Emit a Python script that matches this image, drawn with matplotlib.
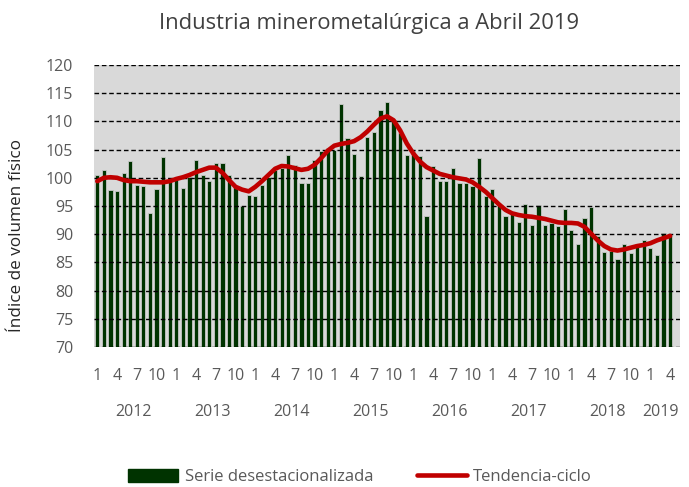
import matplotlib
matplotlib.use("Agg")
import matplotlib.pyplot as plt
from matplotlib.patches import Patch
from matplotlib.lines import Line2D
import numpy as np

plt.rcParams['font.family'] = ['Open Sans', 'DejaVu Sans']

title = "Industria minerometalúrgica a Abril 2019"
ylabel = "Índice de volumen físico"
years = ["2012", "2013", "2014", "2015", "2016", "2017", "2018", "2019"]
months_per_year = [12, 12, 12, 12, 12, 12, 12, 4]
month_labels_shown = [1, 4, 7, 10]

serie = [
    100.5, 101.4, 97.9, 97.6, 100.9, 102.9, 98.8, 98.5, 93.8, 98.0, 103.6, 99.5,
    99.7, 98.2, 100.2, 103.2, 100.5, 99.4, 102.6, 102.7, 100.5, 98.5, 95.0, 97.0,
    96.8, 98.8, 100.2, 101.4, 101.7, 104.0, 102.3, 99.1, 99.1, 103.2, 104.7, 105.3,
    105.0, 113.0, 107.1, 104.3, 100.4, 107.3, 108.2, 112.0, 113.4, 110.3, 107.9, 104.1,
    104.7, 103.8, 93.3, 102.1, 99.5, 99.5, 101.7, 99.1, 99.1, 98.5, 103.5, 96.7,
    98.1, 95.2, 93.3, 93.5, 92.2, 95.4, 91.7, 95.1, 91.7, 92.0, 91.4, 94.5,
    90.8, 88.3, 92.9, 94.9, 89.6, 86.9, 87.0, 85.6, 88.3, 86.7, 88.3, 88.9,
    87.5, 86.4, 90.2, 89.6,
]

tendencia = [
    99.4, 100.0, 100.1, 100.0, 99.6, 99.4, 99.4, 99.3, 99.2, 99.2, 99.2, 99.4,
    99.8, 100.1, 100.5, 101.0, 101.4, 101.8, 101.8, 100.9, 99.6, 98.4, 97.9, 97.6,
    98.4, 99.4, 100.5, 101.6, 102.1, 102.0, 101.7, 101.4, 101.6, 102.3, 103.5, 104.8,
    105.7, 106.0, 106.2, 106.5, 107.2, 108.2, 109.4, 110.5, 110.9, 110.2, 108.4, 106.1,
    104.3, 102.9, 101.9, 101.3, 100.7, 100.4, 100.1, 99.9, 99.7, 99.2, 98.4, 97.5,
    96.4, 95.3, 94.3, 93.7, 93.4, 93.2, 93.1, 92.9, 92.7, 92.4, 92.1, 92.0,
    92.0, 91.9, 91.3, 90.1, 88.9, 87.9, 87.3, 87.1, 87.3, 87.6, 87.9, 88.1,
    88.4, 88.9, 89.3, 89.7,
]

legend_labels = ["Serie desestacionalizada", "Tendencia-ciclo"]

green = '#003300'
red = '#C00000'
gray_text = '#595959'

fig = plt.figure(figsize=(6.89, 4.87), dpi=100)
ax = fig.add_axes([94/689, 1-347/487, (680-94)/689, (347-65)/487])
ax.set_facecolor('#D9D9D9')

x = np.arange(len(serie))
ax.bar(x, [v - 70 for v in serie], bottom=70, width=0.64, color=green,
       edgecolor='#C8C8C8', linewidth=0.6, zorder=2)
ax.plot(x, tendencia, color=red, linewidth=3.3, solid_joinstyle='round',
        solid_capstyle='round', zorder=4)

ax.set_ylim(70, 120)
ax.set_xlim(-0.5, len(serie) + 0.5)
ax.set_yticks(np.arange(70, 121, 5))
ax.yaxis.grid(True, color='black', linestyle=(0, (3.3, 2)), linewidth=1.0, zorder=3)
ax.set_axisbelow(False)
for s in ax.spines.values():
    s.set_visible(False)

# month tick labels
month_nums = []
for n in months_per_year:
    month_nums.extend(range(1, n + 1))
tick_pos = [i for i, m in enumerate(month_nums) if m in month_labels_shown]
tick_lab = [str(month_nums[i]) for i in tick_pos]
ax.set_xticks(tick_pos)
ax.set_xticklabels(tick_lab)
ax.tick_params(axis='x', length=0, pad=15, labelsize=11.5, labelcolor=gray_text)
ax.tick_params(axis='y', length=0, pad=15, labelsize=11.5, labelcolor=gray_text)

# year labels
start = 0
for yr, n in zip(years, months_per_year):
    c = start + (n - 1) / 2
    ax.text(c, -0.232, yr, transform=ax.get_xaxis_transform(), ha='center',
            va='center', fontsize=11.5, color=gray_text)
    start += n

fig.text(17/689, 1-236/487, ylabel, rotation=90, ha='center', va='center',
         fontsize=12.3, color='#262626')
fig.text(369/689, 1-24/487, title, ha='center', va='center', fontsize=15.8,
         color='#404040')

handles = [Patch(facecolor=green, edgecolor=green),
           Line2D([0], [0], color=red, linewidth=3.3, solid_capstyle='round')]
leg = fig.legend(handles, legend_labels, loc='center', bbox_to_anchor=(360/689, 1-477/487),
                 ncol=2, frameon=False, fontsize=12, handlelength=3.0, handleheight=0.85,
                 columnspacing=2.6, handletextpad=0.4, borderpad=0.2)
for t in leg.get_texts():
    t.set_color(gray_text)

fig.savefig('out.png', dpi=100)
